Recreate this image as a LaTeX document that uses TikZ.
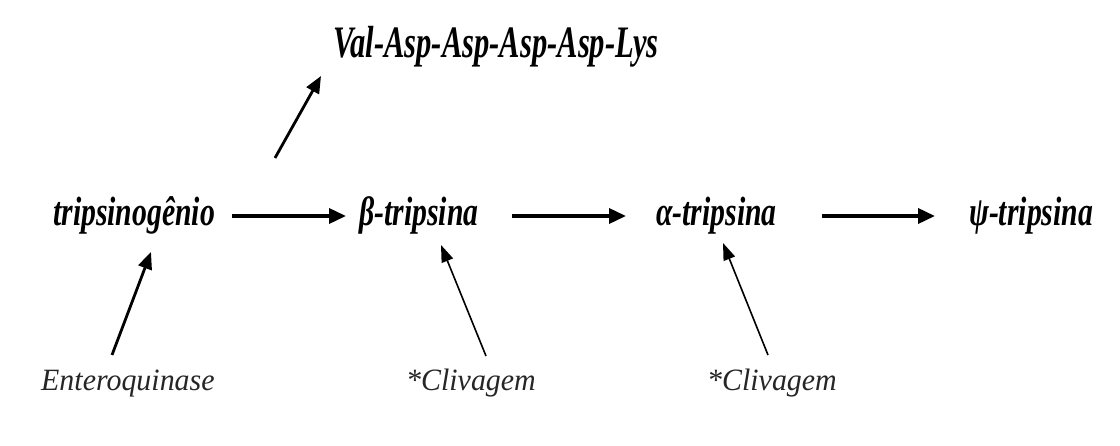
\documentclass[tikz,border=0pt]{standalone}
\usepackage{fontspec}
\usetikzlibrary{arrows.meta}
\newfontfamily\heavyface[FakeStretch=0.725]{Liberation Serif}
\newfontfamily\peptideface[FakeStretch=0.68]{Liberation Serif}
\newfontfamily\lightface[FakeStretch=0.965]{Liberation Serif}
\tikzset{
  species/.style={inner sep=0pt, anchor=base west, font=\heavyface\bfseries\itshape\fontsize{41}{43}\selectfont},
  peptide/.style={inner sep=0pt, anchor=base west, font=\peptideface\bfseries\itshape\fontsize{45}{47}\selectfont},
  agent/.style={inner sep=0pt, anchor=base west, font=\lightface\itshape\fontsize{31}{33}\selectfont, text=black!85},
  mainarrow/.style={line width=3.6pt, -{Triangle[length=17pt, width=15pt]}},
  sidearrow/.style={line width=2.8pt, -{Triangle[length=17pt, width=14pt]}},
  thinarrow/.style={line width=1.6pt, -{Triangle[length=17pt, width=12pt]}}
}
\begin{document}
\begin{tikzpicture}[x=1pt, y=-1pt]
  \fill[white] (0,0) rectangle (1120,446);
  \useasboundingbox (0,0) rectangle (1120,446);

  % reaction chain
  \node[species] (tgen) at (53,226) {tripsinogênio};
  \node[species] (beta) at (359,226) {β-tripsina};
  \node[species] (alpha) at (656,226) {α-tripsina};
  \node[species] (psi) at (969,226) {ψ-tripsina};

  % released peptide
  \node[peptide] (pep) at (333,58) {Val-Asp-Asp-Asp-Asp-Lys};

  % enzymes acting on each step
  \node[agent] (entk) at (41,391) {Enteroquinase};
  \node[agent] (cliv1) at (406,391) {*Clivagem};
  \node[agent] (cliv2) at (707,391) {*Clivagem};

  % arrow end points
  \coordinate (a1s) at (232,216); \coordinate (a1e) at (346,216);
  \coordinate (a2s) at (512,216); \coordinate (a2e) at (626,216);
  \coordinate (a3s) at (822,216); \coordinate (a3e) at (935,216);
  \coordinate (ps) at (275,158);  \coordinate (pe) at (321,76);
  \coordinate (es) at (112,355);  \coordinate (ee) at (151,252);
  \coordinate (c1s) at (486,356); \coordinate (c1e) at (441,245);
  \coordinate (c2s) at (768,355); \coordinate (c2e) at (723,243);

  \draw[mainarrow] (a1s) -- (a1e);
  \draw[mainarrow] (a2s) -- (a2e);
  \draw[mainarrow] (a3s) -- (a3e);
  \draw[sidearrow] (ps) -- (pe);
  \draw[sidearrow] (es) -- (ee);
  \draw[thinarrow] (c1s) -- (c1e);
  \draw[thinarrow] (c2s) -- (c2e);
\end{tikzpicture}
\end{document}
